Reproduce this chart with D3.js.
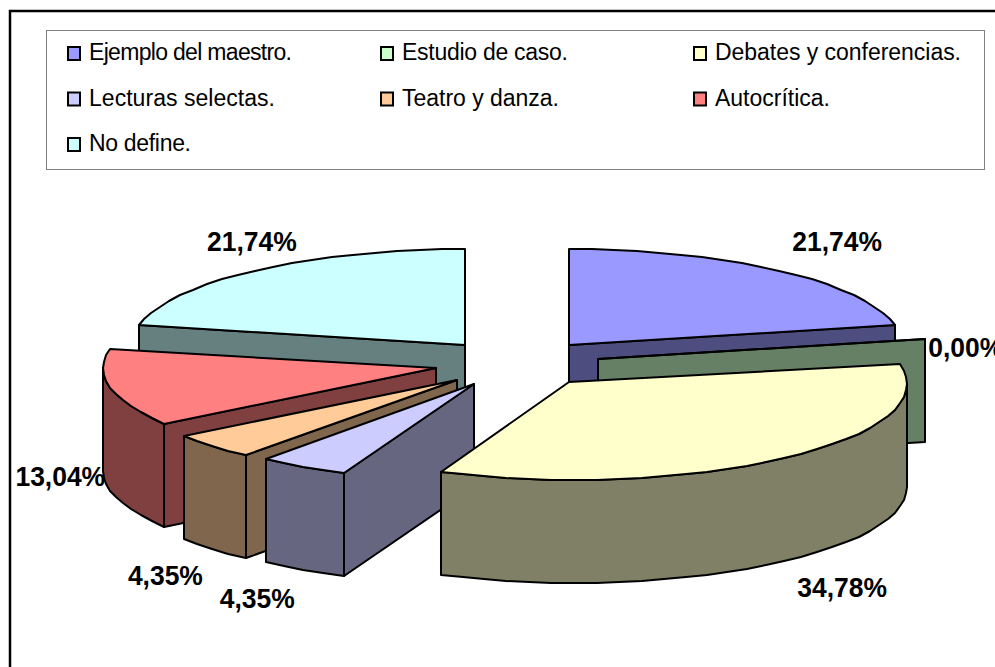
<!DOCTYPE html>
<html>
<head>
<meta charset="utf-8">
<script src="https://cdn.jsdelivr.net/npm/d3@7"></script>
<style>
  html, body { margin:0; padding:0; background:#fff; overflow:hidden; }
  svg { display:block; font-family:"Liberation Sans", Arial, sans-serif; }
  .legend-text { font-size:23px; fill:#000; }
  .pct { font-size:28px; font-weight:700; fill:#000; text-anchor:middle; }
  .face { stroke:#000; stroke-width:2; stroke-linejoin:round; }
</style>
</head>
<body>
<svg id="chart" width="995" height="667"></svg>
<script>
const categories = ['Ejemplo del maestro.', 'Estudio de caso.', 'Debates y conferencias.', 'Lecturas selectas.', 'Teatro y danza.', 'Autocrítica.', 'No define.'];
const percents = [21.74, 0, 34.78, 4.35, 4.35, 13.04, 21.74];
const colors = ['#9999FF', '#CCFFCC', '#FFFFCC', '#CCCCFF', '#FFCC99', '#FF8080', '#CCFFFF'];

// back to front
const drawOrder = [6, 0, 1, 5, 4, 3, 2];

// pie geometry
const cx = 517, cy = 363.4, rx = 333, ry = 96, depth = 103, explode = 82.4;
// label nudge from the rim midpoint of each slice
const labelNudge = [[58,-20], [42,18], [63,141], [-44,142], [-48,140], [-50,98], [-3,-20]];
// the source's rims sit a little off their apex
const rimShift = [[0,0], [1.5,0], [5,2], [2,1], [-1,1], [0,0], [0,0]];
// legend text widths as measured
const legendWidths = [203, 166, 246, 186, 157, 115, 102];

const svg = d3.select('#chart');

// outer frame runs off the right and bottom of the picture
svg.append('rect').attr('x', 10).attr('y', 11).attr('width', 1100).attr('height', 800)
  .attr('fill', '#fff').attr('stroke', '#000').attr('stroke-width', 2.5);

// legend
const legend = svg.append('g');
legend.append('rect').attr('x', 46.5).attr('y', 30.5).attr('width', 938).attr('height', 139)
  .attr('fill', '#fff').attr('stroke', '#808080').attr('stroke-width', 1);

const colX = d3.scaleLinear().domain([0, 2]).range([67, 693]);
const rowY = d3.scaleLinear().domain([0, 2]).range([60, 151]);

const items = legend.selectAll('g.item').data(categories).enter().append('g').attr('class', 'item')
  .attr('transform', (d, i) => `translate(${colX(i % 3)},${rowY(Math.floor(i / 3))})`);
items.append('rect').attr('x', 1).attr('y', -13).attr('width', 12).attr('height', 13)
  .attr('fill', (d, i) => colors[i]).attr('stroke', '#000').attr('stroke-width', 2);
items.append('text').attr('class', 'legend-text').attr('x', 22).attr('y', 0)
  .attr('textLength', (d, i) => legendWidths[i]).attr('lengthAdjust', 'spacing')
  .text(d => d);

// slices
const pie = d3.pie().sort(null).startAngle(0).endAngle(2 * Math.PI);
const arcs = pie(percents);

const line = d3.line().x(d => Math.round(d[0])).y(d => Math.round(d[1]));

function rimPoints(x0, y0, a0, a1, dy = 0) {
  const step = 4 * Math.PI / 180;
  const n = Math.max(1, Math.ceil((a1 - a0) / step));
  return d3.range(n + 1).map(i => {
    const a = a0 + (a1 - a0) * i / n;
    return [x0 + rx * Math.sin(a), y0 - ry * Math.cos(a) + dy];
  });
}

function apexOf(d) {
  const mid = (d.startAngle + d.endAngle) / 2;
  return [cx + explode * Math.sin(mid), cy - explode * ry / rx * Math.cos(mid)];
}

function radialWall(ax, ay, sx, sy, a) {
  const x = sx + rx * Math.sin(a), y = sy - ry * Math.cos(a);
  return [[ax, ay], [x, y], [x, y + depth], [ax, ay + depth]];
}

function drawSlice(i) {
  const d = arcs[i];
  const [ax, ay] = apexOf(d);
  const sx = ax + rimShift[i][0], sy = ay + rimShift[i][1];
  const base = d3.color(colors[i]);
  const wall = d3.rgb(base.r / 2, base.g / 2, base.b / 2).formatHex();
  const g = svg.append('g');

  // radial side walls that face the viewer
  if (Math.sin(d.startAngle) < -1e-6) {
    g.append('path').attr('class', 'face').attr('fill', wall)
      .attr('d', line(radialWall(ax, ay, sx, sy, d.startAngle)) + 'Z');
  }
  if (Math.sin(d.endAngle) > 1e-6) {
    g.append('path').attr('class', 'face').attr('fill', wall)
      .attr('d', line(radialWall(ax, ay, sx, sy, d.endAngle)) + 'Z');
  }

  // outer wall, only on the front half of the rim
  const w0 = Math.max(d.startAngle, Math.PI / 2), w1 = Math.min(d.endAngle, 3 * Math.PI / 2);
  if (w1 > w0) {
    const top = rimPoints(sx, sy, w0, w1);
    const bottom = rimPoints(sx, sy, w0, w1, depth).reverse();
    g.append('path').attr('class', 'face').attr('fill', wall)
      .attr('d', line(top.concat(bottom)) + 'Z');
  }

  // top face
  const rim = rimPoints(sx, sy, d.startAngle, d.endAngle);
  g.append('path').attr('class', 'face').attr('fill', colors[i])
    .attr('d', line([[ax, ay], ...rim]) + 'Z');
}

drawOrder.forEach(drawSlice);

// percentage labels, a bit condensed like the source
const fmt = d3.format('.2f');
svg.selectAll('text.pct').data(arcs).enter().append('text').attr('class', 'pct')
  .attr('transform', (d, i) => {
    const mid = (d.startAngle + d.endAngle) / 2;
    const x = apexOf(d)[0] + rx * Math.sin(mid) + labelNudge[i][0];
    const y = apexOf(d)[1] - ry * Math.cos(mid) + labelNudge[i][1];
    return `translate(${x},${y}) scale(0.945,1)`;
  })
  .text(d => fmt(d.data).replace('.', ',') + '%');
</script>
</body>
</html>
